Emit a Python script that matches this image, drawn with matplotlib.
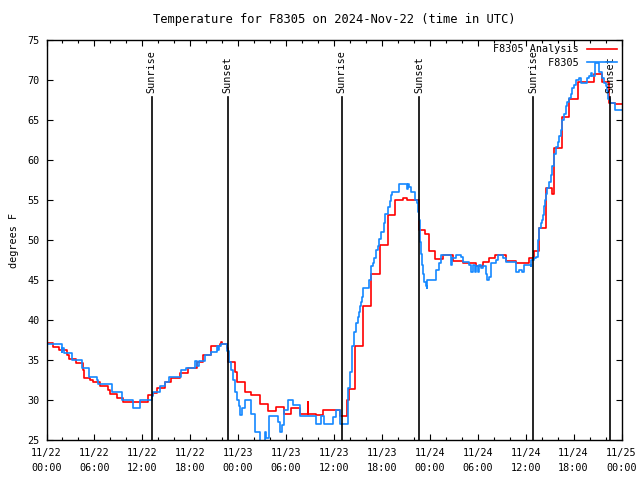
import numpy as np
import pandas as pd
import matplotlib
matplotlib.use("Agg")
import matplotlib.pyplot as plt
import matplotlib.dates as mdates

plt.rcParams.update({"font.family": "DejaVu Sans Mono", "font.size": 7.3})

# ================================ data ======================================
start = pd.Timestamp("2024-11-22 00:00")

# analysis (red), hours since start and degrees F, step changes
red_hours = [0, 0.77, 1.6, 2.6, 2.85, 3.7, 4.6, 4.7, 5.5, 5.85, 6.7, 7.7, 7.9,
             8.8, 9.6, 12.7, 13.35, 13.8, 14.8, 15.65, 16.7, 17.7, 18.8, 19.6,
             20.65, 21.7, 21.9, 22.0, 22.6, 22.7, 23.6, 23.8, 24.9, 25.6, 26.7,
             27.7, 28.7, 29.8, 30.6, 31.7, 32.7, 32.8, 33.8, 34.6, 36.8, 37.6,
             37.85, 38.6, 39.6, 40.65, 41.7, 42.7, 43.6, 44.7, 45.2, 45.65,
             46.6, 47.4, 47.85, 48.7, 49.6, 50.85, 52.1, 53.8, 54.6, 55.4,
             56.1, 57.5, 58.8, 60.4, 61.1, 61.7, 62.5, 63.35, 63.56, 64.5,
             65.4, 66.6, 68.6, 69.5, 70.4, 71.2, 72]
red_temp = [37.1, 36.6, 36.2, 35.6, 35.1, 34.6, 33.8, 32.8, 32.5, 32.2, 31.7,
            31.25, 30.7, 30.2, 29.7, 30.6, 30.9, 31.5, 32.3, 32.8, 33.4, 34.0,
            34.7, 35.6, 36.75, 37.0, 37.3, 37.0, 36.5, 34.7, 33.5, 32.2, 30.95,
            30.6, 29.5, 28.6, 29.1, 28.3, 28.95, 28.3, 29.8, 28.3, 28.1, 28.75,
            28.0, 30.0, 31.4, 36.7, 41.7, 45.8, 49.4, 53.1, 55.0, 55.3, 55.0,
            55.0, 51.25, 50.8, 48.6, 47.6, 48.1, 47.4, 47.1, 46.75, 47.3, 47.7,
            48.1, 47.4, 47.1, 47.7, 48.6, 51.5, 56.5, 55.8, 61.5, 65.4, 67.6,
            69.7, 70.75, 69.7, 67.1, 67.0, 67.0]

# observed (blue)
obs_hours = [0, 0.1, 1.9, 2.0, 2.2, 3.15, 4.4, 5.35, 6.3, 6.5, 8.15, 9.5,
             10.85, 11.7, 13.15, 13.35, 14.2, 14.8, 15.4, 16.9, 17.5, 18.6,
             18.9, 19.1, 19.8, 20.65, 21.3, 21.5, 21.6, 21.9, 22.6, 22.85,
             23.15, 23.35, 23.6, 23.8, 24.1, 24.2, 24.5, 24.9, 25.6, 26.1,
             26.7, 27.3, 27.5, 27.9, 29.0, 29.3, 29.5, 29.8, 30.2, 30.9, 31.7,
             33.8, 34.4, 34.8, 35.9, 36.3, 36.7, 37.7, 37.8, 38.0, 38.2, 38.5,
             38.8, 39.0, 39.1, 39.3, 39.4, 39.5, 39.6, 40.35, 40.65, 40.85,
             41.06, 41.3, 41.5, 41.6, 41.9, 42.2, 42.4, 42.7, 43.0, 43.15,
             43.3, 44.2, 45.2, 45.3, 45.4, 45.6, 46.1, 46.35, 46.5, 46.6, 46.8,
             46.9, 47.0, 47.2, 47.3, 47.5, 47.6, 47.7, 48.8, 49.2, 49.4, 50.65,
             50.8, 51.3, 51.9, 52.1, 52.5, 52.9, 53.15, 53.35, 53.6, 53.8, 54.0,
             54.2, 54.4, 54.6, 55.0, 55.2, 55.4, 55.65, 56.3, 56.5, 57.1, 57.5,
             58.8, 59.2, 59.6, 59.8, 60.65, 60.7, 61.1, 61.3, 61.5, 61.6, 61.7,
             61.9, 62.0, 62.2, 62.3, 62.4, 62.6, 62.7, 62.9, 63.15, 63.35, 63.5,
             63.56, 63.8, 64.0, 64.2, 64.4, 64.6, 64.8, 65.0, 65.2, 65.4, 65.65,
             65.85, 66.1, 66.3, 66.7, 66.9, 67.7, 67.9, 68.15, 68.35, 68.7,
             69.2, 69.5, 69.8, 70.0, 70.2, 70.35, 70.6, 71.2, 72]
obs_temp = [37.9, 37.0, 36.0, 36.5, 35.9, 35.0, 34.0, 32.9, 32.5, 32.0, 31.0,
            30.0, 29.0, 30.0, 30.5, 31.0, 31.7, 32.3, 32.9, 33.8, 34.0, 34.9,
            34.2, 34.9, 35.6, 36.0, 36.75, 36.2, 36.75, 37.0, 36.1, 34.8,
            33.75, 32.5, 31.0, 30.0, 29.2, 28.1, 29.0, 30.0, 28.3, 26.0, 24.5,
            26.0, 25.3, 28.0, 27.3, 26.0, 26.9, 28.75, 30.0, 29.4, 28.0, 27.0,
            28.0, 27.0, 27.9, 28.75, 27.0, 28.6, 31.5, 33.5, 36.7, 38.5, 39.6,
            40.4, 41.0, 41.7, 42.3, 42.9, 44.0, 45.0, 46.7, 47.1, 47.7, 48.75,
            49.2, 50.1, 51.0, 52.1, 53.3, 54.1, 54.9, 55.6, 56.0, 57.0, 56.4,
            57.0, 56.6, 56.0, 55.0, 54.6, 53.5, 52.5, 49.8, 48.3, 46.9, 45.8,
            44.8, 44.2, 44.0, 45.0, 46.25, 47.1, 48.1, 46.9, 47.7, 48.1, 47.9,
            47.3, 47.2, 46.9, 46.0, 46.9, 46.0, 46.7, 46.0, 46.9, 46.5, 46.7,
            45.8, 45.0, 45.4, 47.1, 47.5, 48.1, 47.7, 47.3, 46.0, 46.25, 46.0,
            46.9, 46.7, 47.5, 47.7, 47.9, 48.75, 50.0, 51.5, 52.1, 52.5, 53.1,
            54.2, 55.0, 55.8, 56.5, 57.3, 58.1, 59.2, 60.0, 60.8, 61.6, 62.3,
            63.0, 63.75, 65.0, 65.8, 66.7, 67.3, 67.8, 68.3, 69.0, 69.4, 70.0,
            70.2, 69.6, 70.2, 70.5, 70.9, 70.5, 72.1, 71.0, 70.2, 69.6, 69.2,
            68.6, 67.6, 67.1, 66.2, 66.2]

# sunrise / sunset, hours since start
sun_hours = [13.15, 22.7, 36.98, 46.7, 60.98, 70.6]
sun_labels = ["Sunrise", "Sunset", "Sunrise", "Sunset", "Sunrise", "Sunset"]

y_ticks = [25, 30, 35, 40, 45, 50, 55, 60, 65, 70, 75]


def to_time(hours):
    return start + pd.to_timedelta(hours, unit="h")


# ================================ plot ======================================
fig = plt.figure(figsize=(6.4, 4.8), dpi=100)
ax = fig.add_axes([46.5 / 640, 40 / 480, 575 / 640, 400 / 480])

ax.step(to_time(red_hours), red_temp, where="post", color="#ff0000",
        lw=1.2, label="F8305 Analysis")
ax.step(to_time(obs_hours), obs_temp, where="post", color="#1488ff",
        lw=1.2, label="         F8305")

for h, lab in zip(sun_hours, sun_labels):
    t = to_time(h)
    ax.plot([t, t], [25, 67.9], color="black", lw=1.2)
    ax.text(t, 68.4, lab, rotation=90, ha="center", va="bottom")

ax.set_xlim(to_time(0), to_time(72))
ax.set_ylim(25, 75)
ax.set_yticks(y_ticks)

ax.xaxis.set_major_locator(mdates.HourLocator(byhour=[0, 6, 12, 18]))
ax.xaxis.set_minor_locator(mdates.HourLocator(byhour=range(0, 24, 2)))
ax.xaxis.set_major_formatter(mdates.DateFormatter("%m/%d\n%H:%M"))

ax.tick_params(which="both", direction="in", top=True, right=True, width=0.8)
ax.tick_params(which="major", length=4.5, pad=6)
ax.tick_params(which="minor", length=2.5)
ax.tick_params(axis="y", pad=5)
for s in ax.spines.values():
    s.set_linewidth(1.0)

fig.canvas.draw()
for lab in ax.get_xticklabels():
    lab.set_linespacing(1.6)

ax.set_ylabel("degrees F", labelpad=6)
ax.set_title("Temperature for F8305 on 2024-Nov-22 (time in UTC)", pad=12)

ax.legend(loc="upper right", frameon=False, markerfirst=False,
          handlelength=3.0, handletextpad=0.8, labelspacing=0.35,
          borderaxespad=0.2, borderpad=0.2)

fig.savefig("out.png", dpi=100)
